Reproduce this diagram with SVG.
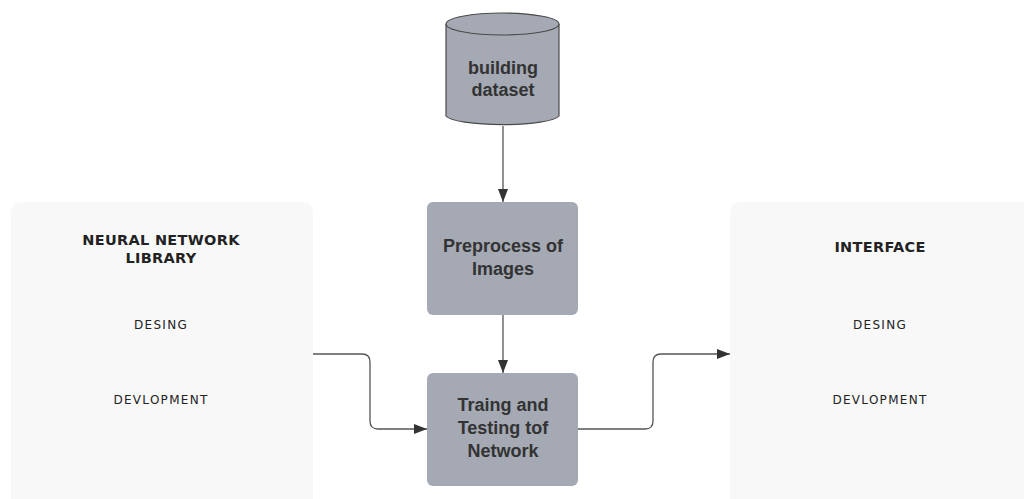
<svg xmlns="http://www.w3.org/2000/svg" width="1024" height="499" viewBox="0 0 1024 499">
  <style>
    .panel { fill: #f8f8f9; stroke: none; }
    .proc { fill: #a4a9b4; stroke: none; }
    .cyl { fill: #a4a9b4; stroke: #4a4a4a; stroke-width: 1.2; }
    .lbl { font-family: "Liberation Sans", Arial, sans-serif; font-weight: bold; font-size: 18px; fill: #333333; text-anchor: middle; }
    .hand { font-family: "DejaVu Sans", sans-serif; font-weight: bold; font-size: 14.5px; fill: #222222; text-anchor: middle; letter-spacing: 0.3px; }
    .hand-sm { font-family: "DejaVu Sans", sans-serif; font-size: 12px; fill: #222222; text-anchor: middle; letter-spacing: 1.3px; }
    .conn { fill: none; stroke: #555555; stroke-width: 1.3; }
  </style>
  <defs>
    <marker id="arrow" viewBox="0 0 13 10" refX="13" refY="5" markerWidth="13" markerHeight="10" markerUnits="userSpaceOnUse" orient="auto">
      <path d="M0,0 L13,5 L0,10 Z" fill="#333333"/>
    </marker>
  </defs>

  <rect width="1024" height="499" fill="#ffffff"/>

  <g id="neural-network-library">
    <rect class="panel" x="11" y="202" width="302" height="310" rx="10"/>
    <text class="hand" x="161" y="245">NEURAL NETWORK</text>
    <text class="hand" x="161" y="263">LIBRARY</text>
    <text class="hand-sm" x="161" y="329">DESING</text>
    <text class="hand-sm" x="161" y="404">DEVLOPMENT</text>
  </g>

  <g id="interface">
    <rect class="panel" x="730" y="202" width="310" height="310" rx="10"/>
    <text class="hand" x="880" y="252">INTERFACE</text>
    <text class="hand-sm" x="880" y="329">DESING</text>
    <text class="hand-sm" x="880" y="404">DEVLOPMENT</text>
  </g>

  <g id="building-dataset">
    <path class="cyl" d="M446,24 L446,116 A57,10 0 0 0 559,116 L559,24"/>
    <ellipse class="cyl" cx="502.5" cy="24" rx="56.5" ry="11"/>
    <text class="lbl" x="503" y="74">building</text>
    <text class="lbl" x="503" y="96">dataset</text>
  </g>

  <g id="preprocess">
    <rect class="proc" x="427" y="202" width="151" height="113" rx="6"/>
    <text class="lbl" x="503" y="252">Preprocess of</text>
    <text class="lbl" x="503" y="275">Images</text>
  </g>

  <g id="training">
    <rect class="proc" x="427" y="373" width="151" height="113" rx="6"/>
    <text class="lbl" x="503" y="411">Traing and</text>
    <text class="lbl" x="503" y="434">Testing tof</text>
    <text class="lbl" x="503" y="457">Network</text>
  </g>

  <g id="connectors">
    <path class="conn" d="M503,126 L503,202" marker-end="url(#arrow)"/>
    <path class="conn" d="M503,315 L503,373" marker-end="url(#arrow)"/>
    <path class="conn" d="M313,354 L362,354 Q370,354 370,362 L370,421 Q370,429 378,429 L427,429" marker-end="url(#arrow)"/>
    <path class="conn" d="M578,429 L645,429 Q653,429 653,421 L653,362 Q653,354 661,354 L730,354" marker-end="url(#arrow)"/>
  </g>
</svg>
